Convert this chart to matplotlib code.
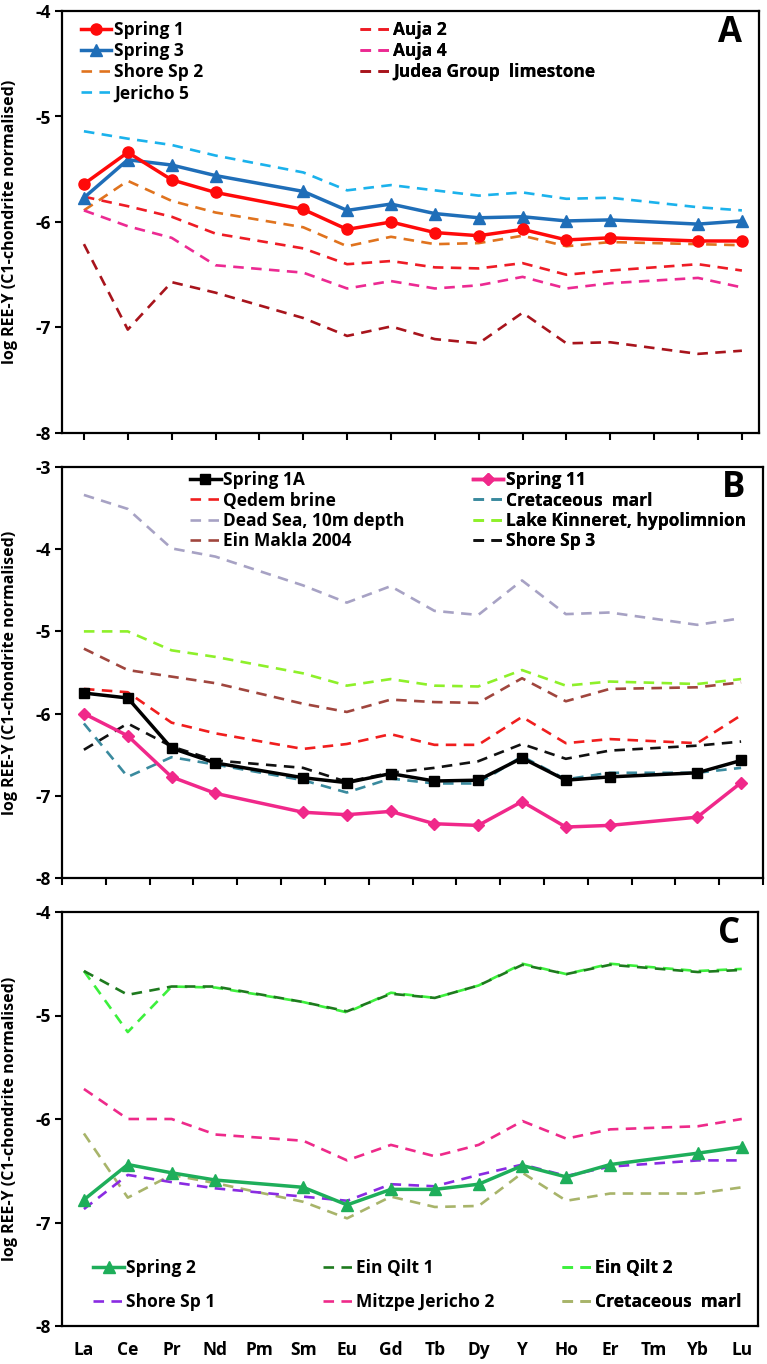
import numpy as np
import matplotlib
matplotlib.use('Agg')
import matplotlib.pyplot as plt

plt.rcParams['font.family'] = ['Open Sans', 'DejaVu Sans']
plt.rcParams['font.weight'] = 'bold'

elements = ['La', 'Ce', 'Pr', 'Nd', 'Pm', 'Sm', 'Eu', 'Gd', 'Tb', 'Dy', 'Y', 'Ho', 'Er', 'Tm', 'Yb', 'Lu']
N = None

# panel A
spring1 = [-5.64, -5.34, -5.60, -5.72, N, -5.88, -6.07, -6.00, -6.10, -6.13, -6.07, -6.17, -6.15, N, -6.18, -6.18]
spring3 = [-5.77, -5.41, -5.46, -5.56, N, -5.71, -5.89, -5.83, -5.92, -5.96, -5.95, -5.99, -5.98, N, -6.02, -5.99]
shore_sp2 = [-5.89, -5.61, -5.80, -5.91, N, -6.05, -6.23, -6.14, -6.21, -6.20, -6.13, -6.23, -6.19, N, -6.21, -6.22]
jericho5 = [-5.14, -5.21, -5.27, -5.37, N, -5.53, -5.70, -5.65, -5.70, -5.75, -5.72, -5.78, -5.77, N, -5.86, -5.89]
auja2 = [-5.76, -5.85, -5.95, -6.11, N, -6.25, -6.40, -6.37, -6.43, -6.44, -6.39, -6.50, -6.46, N, -6.40, -6.46]
auja4 = [-5.89, -6.04, -6.15, -6.41, N, -6.48, -6.63, -6.56, -6.63, -6.60, -6.52, -6.63, -6.58, N, -6.53, -6.62]
judea = [-6.21, -7.02, -6.57, -6.67, N, -6.91, -7.08, -6.99, -7.11, -7.15, -6.86, -7.15, -7.14, N, -7.25, -7.22]

# panel B
spring1a = [-5.75, -5.81, -6.42, -6.60, N, -6.78, -6.84, -6.73, -6.82, -6.81, -6.54, -6.81, -6.77, N, -6.72, -6.57]
spring11 = [-6.00, -6.27, -6.77, -6.97, N, -7.20, -7.23, -7.19, -7.34, -7.36, -7.07, -7.38, -7.36, N, -7.26, -6.84]
qedem = [-5.70, -5.74, -6.11, -6.24, N, -6.43, -6.37, -6.25, -6.38, -6.38, -6.04, -6.36, -6.31, N, -6.36, -6.02]
cret_marl_b = [-6.12, -6.77, -6.53, -6.62, N, -6.81, -6.96, -6.79, -6.85, -6.85, -6.52, -6.80, -6.72, N, -6.72, -6.66]
dead_sea = [-3.34, -3.51, -3.99, -4.09, N, -4.44, -4.65, -4.45, -4.75, -4.80, -4.38, -4.79, -4.77, N, -4.92, -4.84]
kinneret = [-5.00, -5.00, -5.23, -5.31, N, -5.51, -5.66, -5.58, -5.66, -5.67, -5.47, -5.66, -5.61, N, -5.64, -5.58]
ein_makla = [-5.21, -5.47, -5.55, -5.63, N, -5.88, -5.98, -5.83, -5.86, -5.87, -5.57, -5.85, -5.70, N, -5.68, -5.62]
shore_sp3 = [-6.44, -6.12, -6.40, -6.57, N, -6.66, -6.83, -6.72, -6.66, -6.58, -6.37, -6.55, -6.45, N, -6.39, -6.34]

# panel C
spring2 = [-6.78, -6.44, -6.52, -6.59, N, -6.66, -6.83, -6.68, -6.68, -6.63, -6.45, -6.56, -6.44, N, -6.33, -6.27]
ein_qilt1 = [-4.57, -4.80, -4.72, -4.72, N, -4.87, -4.96, -4.79, -4.83, -4.71, -4.51, -4.60, -4.51, N, -4.58, -4.56]
ein_qilt2 = [-4.57, -5.16, -4.72, -4.73, N, -4.87, -4.97, -4.78, -4.83, -4.71, -4.50, -4.60, -4.50, N, -4.57, -4.55]
shore_sp1 = [-6.87, -6.54, -6.61, -6.67, N, -6.75, -6.79, -6.63, -6.65, -6.54, -6.44, -6.55, -6.46, N, -6.40, -6.40]
mitzpe = [-5.71, -6.00, -6.00, -6.15, N, -6.21, -6.40, -6.25, -6.36, -6.25, -6.02, -6.19, -6.10, N, -6.07, -6.00]
cret_marl_c = [-6.14, -6.76, -6.54, -6.62, N, -6.80, -6.96, -6.75, -6.85, -6.84, -6.52, -6.79, -6.72, N, -6.72, -6.66]

x = np.arange(len(elements))
DASH = (4, 2.8)


def draw(ax, vals, color, label, marker=None, solid=False, ms=7, z=2):
    y = np.array([np.nan if v is None else v for v in vals], dtype=float)
    m = ~np.isnan(y)
    if solid:
        ax.plot(x[m], y[m], color=color, lw=2.5, marker=marker, ms=ms, label=label, zorder=z + 2)
    else:
        ax.plot(x[m], y[m], color=color, lw=1.9, dashes=DASH, label=label, zorder=z)


def col_legend(ax, labels, xa, ya, spacing):
    hs, ls = ax.get_legend_handles_labels()
    sel = [hs[ls.index(l)] for l in labels]
    leg = ax.legend(sel, labels, loc='upper left', bbox_to_anchor=(xa, ya), frameon=False,
                    handlelength=1.75, handletextpad=0.15, borderpad=0,
                    borderaxespad=0, labelspacing=spacing, prop={'weight': 'bold', 'size': 12.5})
    ax.add_artist(leg)


fig = plt.figure(figsize=(7.67, 13.64), dpi=100)
axA = fig.add_axes([62 / 767, 1 - 433 / 1364, 697 / 767, 422 / 1364])
axB = fig.add_axes([62 / 767, 1 - 878 / 1364, 701 / 767, 411 / 1364])
axC = fig.add_axes([62 / 767, 1 - 1326 / 1364, 696 / 767, 414 / 1364])

# A
draw(axA, jericho5, '#1BB2EC', 'Jericho 5')
draw(axA, shore_sp2, '#E0731E', 'Shore Sp 2')
draw(axA, auja2, '#EE1C25', 'Auja 2')
draw(axA, auja4, '#EC2A92', 'Auja 4')
draw(axA, judea, '#A8141C', 'Judea Group  limestone')
draw(axA, spring3, '#1F6EB8', 'Spring 3', marker='^', solid=True, ms=8)
draw(axA, spring1, '#FF0A0A', 'Spring 1', marker='o', solid=True, ms=8)

# B
draw(axB, dead_sea, '#A7A2C4', 'Dead Sea, 10m depth')
draw(axB, kinneret, '#8EF02A', 'Lake Kinneret, hypolimnion')
draw(axB, ein_makla, '#A0463E', 'Ein Makla 2004')
draw(axB, qedem, '#F01E1E', 'Qedem brine')
draw(axB, shore_sp3, '#111111', 'Shore Sp 3')
draw(axB, cret_marl_b, '#3A8A9E', 'Cretaceous  marl')
draw(axB, spring11, '#F0288A', 'Spring 11', marker='D', solid=True, ms=6)
draw(axB, spring1a, '#000000', 'Spring 1A', marker='s', solid=True, ms=7)

# C
draw(axC, ein_qilt2, '#3CF03C', 'Ein Qilt 2')
draw(axC, ein_qilt1, '#1E7A1E', 'Ein Qilt 1')
draw(axC, mitzpe, '#EE2A8A', 'Mitzpe Jericho 2')
draw(axC, cret_marl_c, '#A8B46A', 'Cretaceous  marl')
draw(axC, shore_sp1, '#8A2BE2', 'Shore Sp 1')
draw(axC, spring2, '#1EAE5A', 'Spring 2', marker='^', solid=True, ms=8)

for ax, top in [(axA, -4), (axB, -3), (axC, -4)]:
    ax.set_ylim(-8, top)
    ax.set_yticks(np.arange(-8, top + 1))
    ax.set_yticklabels([str(v) for v in range(-8, top + 1)])
    ax.set_ylabel('log REE-Y (C1-chondrite normalised)', fontsize=11.5, fontweight='bold')
    ax.yaxis.set_label_coords(-0.063, 0.5)
    for s in ax.spines.values():
        s.set_linewidth(1.6)
    ax.tick_params(axis='y', direction='out', length=5, width=1.5, labelsize=12.5, pad=3)
    ax.tick_params(axis='x', direction='out', length=5, width=1.5)

axA.set_xlim(-0.5, 15.39)
axA.set_xticks(x)
axA.set_xticklabels([])

axB.set_xlim(-0.5, 15.48)
axB.set_xticks(np.arange(-0.5, 15.6, 1))
axB.set_xticklabels([])

axC.set_xlim(-0.5, 15.37)
axC.set_xticks(x)
axC.set_xticklabels(elements, fontsize=12.5, fontweight='bold')
axC.tick_params(axis='x', length=0, pad=11)

# legends
col_legend(axA, ['Spring 1', 'Spring 3', 'Shore Sp 2', 'Jericho 5'], 0.027, 0.976, 0.18)
col_legend(axA, ['Auja 2', 'Auja 4', 'Judea Group  limestone'], 0.428, 0.976, 0.18)
col_legend(axB, ['Spring 1A', 'Qedem brine', 'Dead Sea, 10m depth', 'Ein Makla 2004'], 0.183, 0.99, 0.14)
col_legend(axB, ['Spring 11', 'Cretaceous  marl', 'Lake Kinneret, hypolimnion', 'Shore Sp 3'], 0.586, 0.99, 0.14)
col_legend(axC, ['Spring 2', 'Shore Sp 1'], 0.045, 0.161, 0.9)
col_legend(axC, ['Ein Qilt 1', 'Mitzpe Jericho 2'], 0.375, 0.161, 0.9)
col_legend(axC, ['Ein Qilt 2', 'Cretaceous  marl'], 0.718, 0.161, 0.9)

for ax, letter in [(axA, 'A'), (axB, 'B'), (axC, 'C')]:
    ax.text(0.958, 0.948, letter, transform=ax.transAxes, ha='center', va='center',
            fontsize=25, fontweight='bold')

fig.savefig('out.png', dpi=100)
